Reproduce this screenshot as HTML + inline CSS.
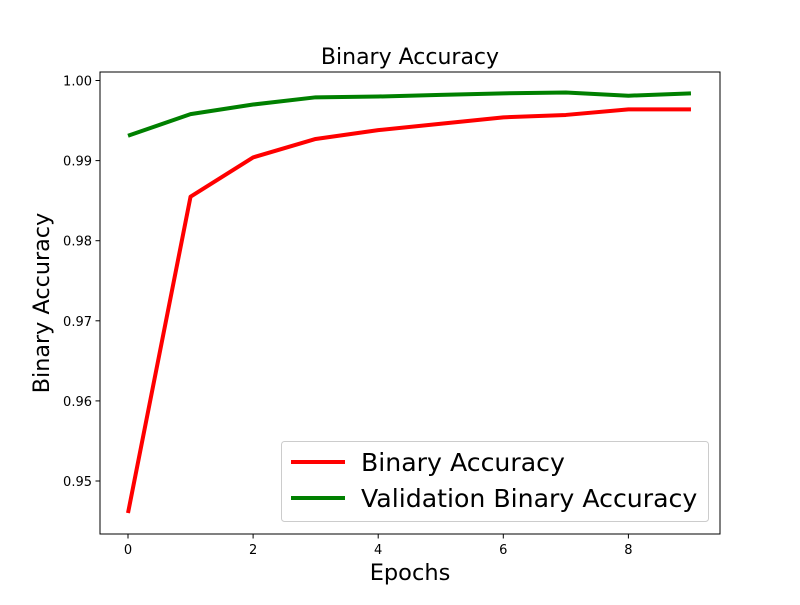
<!DOCTYPE html>
<html><head><meta charset="utf-8"><style>
body{margin:0;background:#fff}
svg text{font-family:"DejaVu Sans","Liberation Sans",sans-serif}
</style></head><body>
<svg id="chart" width="800" height="600" xmlns="http://www.w3.org/2000/svg">
<rect width="800" height="600" fill="#fff"/>
<text x="410" y="64" font-size="22" text-anchor="middle">Binary Accuracy</text>
<text x="410" y="580" font-size="22.5" text-anchor="middle">Epochs</text>
<text transform="translate(49,303) rotate(-90)" font-size="22.3" text-anchor="middle">Binary Accuracy</text>
<g id="ticks"></g>
<g id="lines"></g>
<rect x="100" y="72" width="620" height="462" fill="none" stroke="#000" stroke-width="1"/>
<g>
<rect x="281.5" y="441.5" width="427" height="80" rx="3" fill="#fff" fill-opacity="0.8" stroke="#ccc"/>
<line x1="291" y1="462" x2="345" y2="462" stroke="#ff0000" stroke-width="4"/>
<text x="361" y="471" font-size="25.2">Binary Accuracy</text>
<line x1="291" y1="498" x2="345" y2="498" stroke="#008000" stroke-width="4"/>
<text x="361" y="507" font-size="25.2">Validation Binary Accuracy</text>
</g>
</svg>
<script>
const epochs=[0,1,2,3,4,5,6,7,8,9];
const trainAcc=[0.9460,0.9855,0.9904,0.9927,0.9938,0.9946,0.9954,0.9957,0.9964,0.9964];
const valAcc=[0.9931,0.9958,0.9970,0.9979,0.9980,0.9982,0.9984,0.9985,0.9981,0.9984];
const xTicks=[0,2,4,6,8];
const yTicks=[0.95,0.96,0.97,0.98,0.99,1.00];
const yTickLabels=["0.95","0.96","0.97","0.98","0.99","1.00"];
const NS="http://www.w3.org/2000/svg";
const xs=v=>128+v*62.55;
const ys=v=>481-(v-0.95)/0.01*80.1;
const tg=document.getElementById('ticks'),lg=document.getElementById('lines');
function mk(t,a,p){const e=document.createElementNS(NS,t);for(const k in a)e.setAttribute(k,a[k]);p.appendChild(e);return e;}
xTicks.forEach(v=>{
 const l=mk('line',{x1:xs(v),x2:xs(v),y1:534,y2:538.5,stroke:'#000'},tg);
 
 
 const t=mk('text',{x:xs(v),y:554,'font-size':13,'text-anchor':'middle'},tg);t.textContent=v;
 
 
});
yTicks.forEach((v,i)=>{
 const l=mk('line',{x1:95.5,x2:100,y1:ys(v),y2:ys(v),stroke:'#000'},tg);
 
 
 const t=mk('text',{x:92,y:ys(v)+5,'font-size':13,'text-anchor':'end'},tg);t.textContent=yTickLabels[i];
 
 
});
function line(data,color,name){
 const p=mk('polyline',{points:data.map((v,i)=>xs(epochs[i])+','+ys(v)).join(' '),fill:'none',stroke:color,'stroke-width':4,'stroke-linejoin':'round'},lg);
 
 
}
line(trainAcc,'#ff0000','train-accuracy-line');
line(valAcc,'#008000','validation-accuracy-line');
</script>
</body></html>
